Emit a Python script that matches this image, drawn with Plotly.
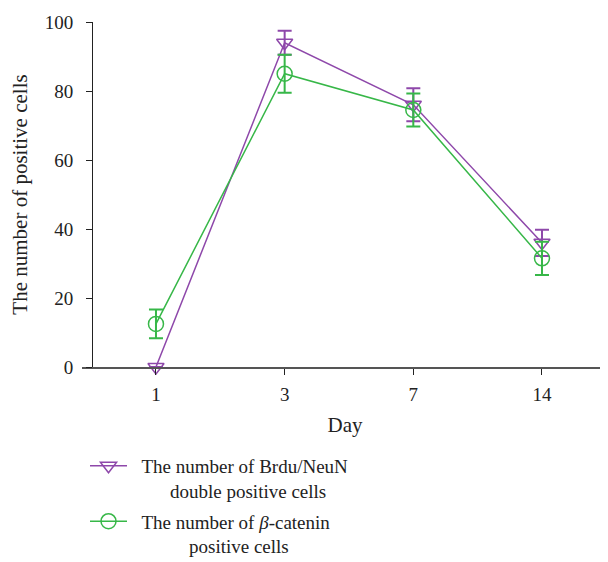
import plotly.graph_objects as go

days = ["1", "3", "7", "14"]
brdu_mean = [0, 94, 76, 36]
brdu_err = [0, 3.5, 4.8, 3.8]
cat_mean = [12.5, 85, 74.5, 31.5]
cat_err = [4.2, 5.5, 4.8, 4.8]
y_ticks = [0, 20, 40, 60, 80, 100]

purple = "rgb(142,72,170)"
green = "rgb(55,183,72)"
font = "Liberation Serif"
lead = "\u00a0" * 2
pad1 = "\u00a0" * 8
pad2 = "\u00a0" * 12

xi = list(range(len(days)))
fig = go.Figure()
fig.add_trace(go.Scatter(
    x=xi, y=brdu_mean, mode="lines+markers", legendgroup="a",
    name=lead + "The number of Brdu/NeuN<br>" + pad1 + "double positive cells",
    line=dict(color=purple, width=1.5),
    marker=dict(symbol="triangle-down-open", size=14, color=purple, line=dict(width=1.5)),
    error_y=dict(type="data", array=brdu_err, color=purple, thickness=2, width=7),
    cliponaxis=False,
))
fig.add_trace(go.Scatter(
    x=xi, y=cat_mean, mode="lines+markers", legendgroup="b",
    name=lead + "The number of <i>β</i>-catenin<br>" + pad2 + "positive cells",
    line=dict(color=green, width=1.5),
    marker=dict(symbol="circle-open", size=15, color=green, line=dict(width=1.5)),
    error_y=dict(type="data", array=cat_err, color=green, thickness=2, width=7),
    cliponaxis=False,
))

fig.update_layout(
    width=608, height=562,
    margin=dict(l=74, r=8, t=14, b=203),
    paper_bgcolor="white", plot_bgcolor="white",
    font=dict(family=font, size=19, color="#222"),
    xaxis=dict(
        range=[-0.575, 3.513], tickvals=xi, ticktext=days, automargin=False,
        showgrid=False, zeroline=False, showline=True, linecolor="#555", linewidth=2,
        ticks="outside", ticklen=6, tickcolor="#222", ticklabelstandoff=3,
        title=dict(text="Day", font=dict(size=21), standoff=14),
    ),
    yaxis=dict(
        range=[0, 100], tickvals=y_ticks, anchor="free", position=10 / 526, automargin=False,
        showgrid=False, zeroline=False, showline=True, linecolor="#222", linewidth=1,
        ticks="outside", ticklen=6, tickcolor="#222", ticklabelstandoff=9,
        title=dict(text="The number of positive cells", font=dict(size=21), standoff=16),
    ),
    legend=dict(
        x=3 / 526, xref="paper", y=0.219, yref="container", xanchor="left", yanchor="top",
        font=dict(size=19, family=font), valign="top", itemwidth=37,
        tracegroupgap=3,
    ),
    showlegend=True,
)

fig.write_html("out.html")
